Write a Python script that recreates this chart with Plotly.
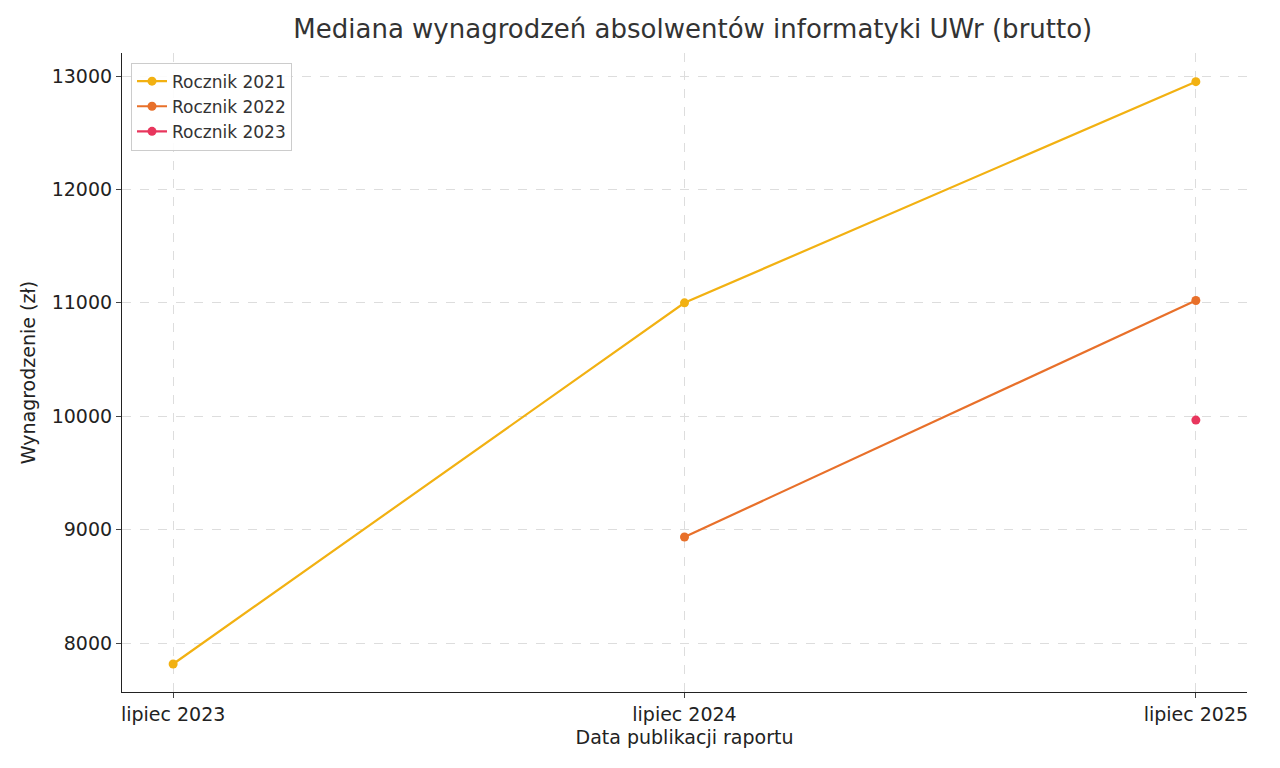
import plotly.graph_objects as go

reports = ["lipiec 2023", "lipiec 2024", "lipiec 2025"]
rocznik_2021 = [7815, 11000, 12950]
rocznik_2022 = [None, 8935, 11020]
rocznik_2023 = [None, None, 9966]

series = [
    ("Rocznik 2021", rocznik_2021, "#F2B112"),
    ("Rocznik 2022", rocznik_2022, "#E8702A"),
    ("Rocznik 2023", rocznik_2023, "#E8365D"),
]

fig = go.Figure()
for name, vals, color in series:
    fig.add_trace(go.Scatter(
        x=list(range(len(reports))), y=vals, name=name,
        mode="lines+markers",
        line=dict(color=color, width=2.2),
        marker=dict(color=color, size=9),
    ))

fig.update_layout(
    width=1280, height=768,
    paper_bgcolor="white", plot_bgcolor="white",
    font=dict(family="DejaVu Sans", size=19, color="#222"),
    margin=dict(l=114, r=41, t=45, b=84),
    title=dict(text="Mediana wynagrodzeń absolwentów informatyki UWr (brutto)",
               x=0.535, xanchor="center", y=0.985, yanchor="top",
               font=dict(size=26, color="#333")),
    xaxis=dict(
        range=[-0.1, 2.1], tickvals=[0, 1, 2], ticktext=reports,
        showgrid=True, gridcolor="#dddddd", griddash="dash", gridwidth=1,
        showline=True, linecolor="#222", linewidth=1.2, mirror=False,
        ticks="outside", ticklen=5, zeroline=False,
        title=dict(text="Data publikacji raportu", font=dict(size=19), standoff=6),
    ),
    yaxis=dict(
        range=[7568, 13203], dtick=1000, tickformat="d",
        showgrid=True, gridcolor="#dddddd", griddash="dash", gridwidth=1,
        showline=True, linecolor="#222", linewidth=1.2,
        ticks="outside", ticklen=5, zeroline=False,
        title=dict(text="Wynagrodzenie (zł)", font=dict(size=19), standoff=10),
    ),
    legend=dict(x=0.008, y=0.985, xanchor="left", yanchor="top",
                bgcolor="rgba(255,255,255,0.9)", bordercolor="#cccccc", borderwidth=1,
                font=dict(size=17, color="#333")),
)

fig.write_html("out.html")
